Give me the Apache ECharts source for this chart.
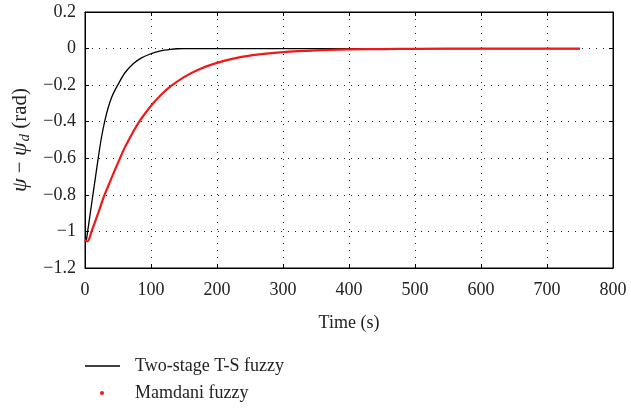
<!DOCTYPE html>
<html>
<head>
<meta charset="utf-8">
<script src="https://cdn.jsdelivr.net/npm/echarts@6/dist/echarts.min.js"></script>
<style>
html,body{margin:0;padding:0;background:#fff;}
#chart{width:631px;height:409px;}
</style>
</head>
<body>
<div id="chart"></div>
<script>
// Data
var tsTime = [2, 4, 8, 12, 16, 20, 25, 30, 35, 40, 45, 50, 60, 73, 85, 98, 110, 120, 130, 140, 150, 200, 300, 400, 500, 600, 700, 750];
var tsValue = [-1.05, -1.0, -0.9, -0.8, -0.7, -0.6, -0.485, -0.395, -0.325, -0.27, -0.23, -0.197, -0.135, -0.083, -0.052, -0.031, -0.017, -0.009, -0.004, -0.001, 0, 0, 0, 0, 0, 0, 0, 0];
var mamTime = [0, 3, 6, 10, 15, 20, 25, 29, 35, 40, 46, 53, 60, 66, 75, 83, 92, 100, 115, 130, 150, 175, 200, 230, 264, 300, 350, 400, 450, 500, 600, 700, 750];
var mamValue = [-1.045, -1.055, -1.045, -1.0, -0.95, -0.9, -0.847, -0.805, -0.753, -0.71, -0.658, -0.6, -0.543, -0.502, -0.443, -0.395, -0.351, -0.313, -0.254, -0.206, -0.156, -0.11, -0.078, -0.051, -0.032, -0.019, -0.0096, -0.0049, -0.0025, -0.0013, 0, 0, 0];
var xTicks = [0, 100, 200, 300, 400, 500, 600, 700, 800];
var yTicks = [0.2, 0, -0.2, -0.4, -0.6, -0.8, -1, -1.2];

var FONT = 'Liberation Serif';
function pairs(a, b){ return a.map(function(t,i){ return [t, b[i]]; }); }

var chart = echarts.init(document.getElementById('chart'));
var dotted = {show:true, lineStyle:{color:'#222', width:1, type:[1,6]}};
chart.setOption({
  animation:false,
  backgroundColor:'#fff',
  textStyle:{fontFamily:FONT},
  grid:{left:85, right:18, top:12, bottom:141, show:true, borderColor:'#000', borderWidth:1},
  xAxis:[{
    type:'value', min:xTicks[0], max:xTicks[xTicks.length-1], interval:100,
    name:'Time (s)', nameLocation:'middle', nameGap:46,
    nameTextStyle:{fontFamily:FONT, fontSize:18, color:'#222'},
    axisLine:{show:true, onZero:false, lineStyle:{color:'#000', width:1}},
    axisTick:{show:true, inside:true, length:4, lineStyle:{color:'#000'}},
    axisLabel:{fontFamily:FONT, fontSize:18, color:'#222', margin:13},
    splitLine:dotted
  },{
    type:'value', position:'top', min:0, max:800, interval:100,
    axisLine:{show:true, onZero:false, lineStyle:{color:'#000'}},
    axisTick:{show:true, inside:true, length:4, lineStyle:{color:'#000'}},
    axisLabel:{show:false}, splitLine:{show:false}
  }],
  yAxis:[{
    type:'value', min:-1.2, max:0.2, interval:0.2,
    name:'{i|ψ} − {i|ψ}{sub|d} (rad)', nameLocation:'middle', nameGap:50,
    nameTextStyle:{fontFamily:FONT, fontSize:21, color:'#222',
      rich:{i:{fontFamily:FONT, fontStyle:'italic', fontSize:22, color:'#222'},
            sub:{fontFamily:FONT, fontStyle:'italic', fontSize:15, color:'#222', padding:[9,0,0,1]}}},
    axisLine:{show:true, onZero:false, lineStyle:{color:'#000', width:1}},
    axisTick:{show:true, inside:true, length:4, lineStyle:{color:'#000'}},
    axisLabel:{fontFamily:FONT, fontSize:18, color:'#222', margin:9,
      formatter:function(v){ var r = Math.round(v*10)/10; return String(r).replace('-', '−'); }},
    splitLine:dotted
  },{
    type:'value', position:'right', min:-1.2, max:0.2, interval:0.2,
    axisLine:{show:true, onZero:false, lineStyle:{color:'#000'}},
    axisTick:{show:true, inside:true, length:4, lineStyle:{color:'#000'}},
    axisLabel:{show:false}, splitLine:{show:false}
  }],
  legend:[{
    orient:'vertical', left:85, top:357, padding:0, itemWidth:35, itemHeight:1.5, icon:'rect',
    data:[{name:'Two-stage T-S fuzzy'}],
    textStyle:{fontFamily:FONT, fontSize:18, color:'#222', padding:[0,0,0,10]}
  },{
    orient:'vertical', left:100, top:384, padding:0, itemWidth:4, itemHeight:4, icon:'circle',
    data:[{name:'Mamdani fuzzy'}],
    textStyle:{fontFamily:FONT, fontSize:18, color:'#222', padding:[0,0,0,26]}
  }],
  series:[{
    name:'Two-stage T-S fuzzy', type:'line', symbol:'none', smooth:0.3,
    data:pairs(tsTime, tsValue),
    lineStyle:{color:'#000', width:1.3}, itemStyle:{color:'#000'}, z:3
  },{
    name:'Mamdani fuzzy', type:'line', symbol:'none', smooth:0.3,
    data:pairs(mamTime, mamValue),
    lineStyle:{color:'#f01818', width:2.2}, itemStyle:{color:'#f01818'}, z:4
  }]
});
</script>
</body>
</html>
